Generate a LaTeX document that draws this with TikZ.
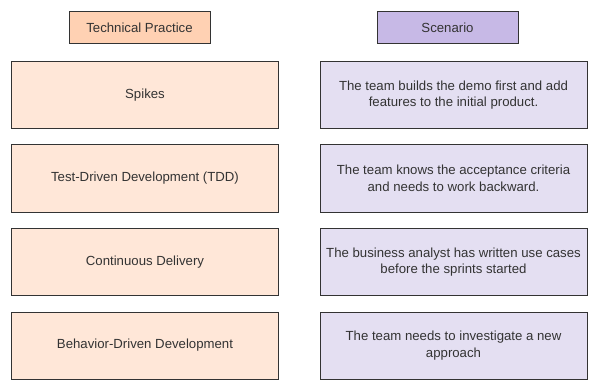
\documentclass[tikz,border=0pt]{standalone}
\usepackage{fontspec}
\setmainfont{Liberation Sans}
\usepackage{tikz}

\definecolor{practicehead}{HTML}{FFD1B3}
\definecolor{practicefill}{HTML}{FFE7D8}
\definecolor{scenariohead}{HTML}{C7B9E6}
\definecolor{scenariofill}{HTML}{E4DFF2}
\definecolor{boxline}{HTML}{333333}
\definecolor{boxtext}{HTML}{333333}

\tikzset{
  headbox/.style={draw=boxline, line width=1pt, minimum width=141pt, minimum height=32pt,
    inner sep=0pt, text=boxtext, font=\fontsize{13.2}{16.5}\selectfont},
  rowbox/.style={draw=boxline, line width=1pt, minimum width=267pt, minimum height=67pt,
    inner sep=0pt, align=center, text=boxtext, font=\fontsize{13.2}{16.5}\selectfont}
}

\begin{document}
\begin{tikzpicture}[x=1pt,y=-1pt]
\useasboundingbox (0,0) rectangle (599,390);
% column heads
\node[headbox, fill=practicehead] (practice) at (139.5,28) {Technical Practice};
\node[headbox, fill=scenariohead] (scenario) at (447.5,28) {Scenario};
% technical practices
\node[rowbox, fill=practicefill] (spikes) at (145,95) {Spikes};
\node[rowbox, fill=practicefill] (tdd) at (145,178.5) {Test-Driven Development (TDD)};
\node[rowbox, fill=practicefill] (cd) at (145,262) {Continuous Delivery};
\node[rowbox, fill=practicefill] (bdd) at (145,345.5) {Behavior-Driven Development};
% scenarios
\node[rowbox, fill=scenariofill] (demo) at (453.5,95) {The team builds the demo first and add\\features to the initial product.};
\node[rowbox, fill=scenariofill] (criteria) at (453.5,178.5) {The team knows the acceptance criteria\\and needs to work backward.};
\node[rowbox, fill=scenariofill] (usecases) at (453.5,262) {The business analyst has written use cases\\before the sprints started};
\node[rowbox, fill=scenariofill] (approach) at (453.5,345.5) {The team needs to investigate a new\\approach};
\end{tikzpicture}
\end{document}
